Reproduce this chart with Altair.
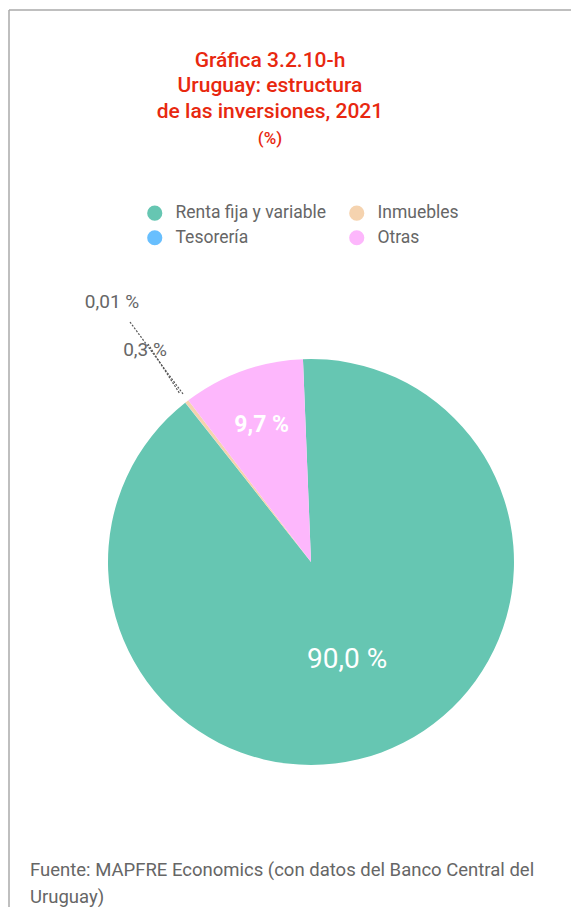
import math
import altair as alt
import pandas as pd

categorias = ["Renta fija y variable", "Tesorería", "Inmuebles", "Otras"]
valores = [90.0, 0.01, 0.3, 9.7]
orden = [0, 1, 2, 3]
etiqueta_grande = ["90,0 %", "", "", ""]
etiqueta_media = ["", "", "", "9,7 %"]
colores = ["#66C6B2", "#68BFFE", "#F5D3AF", "#FDB7FC"]

titulo = ["Gráfica 3.2.10-h", "Uruguay: estructura", "de las inversiones, 2021"]
subtitulo = "(%)"
fuente = ["Fuente: MAPFRE Economics (con datos del Banco Central del", "Uruguay)"]
etiquetas_ext = ["0,01 %", "0,3 %"]

df = pd.DataFrame({
    "cat": categorias,
    "val": valores,
    "orden": orden,
    "lg": etiqueta_grande,
    "lm": etiqueta_media,
})

W, H = 563, 899
CX, CY, R = 303, 554, 203
start = -0.0396
FONT = "Roboto"
RED = "#E8280F"
GRAY = "#666666"

base = alt.Chart(df)
theta = alt.Theta("val:Q", stack=True, scale=alt.Scale(range=[start, start + 2 * math.pi]))
order = alt.Order("orden:Q", sort="ascending")

pie = base.mark_arc(outerRadius=R, strokeWidth=0).encode(
    theta=theta,
    order=order,
    x=alt.value(CX),
    y=alt.value(CY),
    color=alt.Color(
        "cat:N",
        scale=alt.Scale(domain=categorias, range=colores),
        legend=alt.Legend(
            title=None,
            orient="none",
            legendX=138,
            legendY=196,
            columns=2,
            columnPadding=21,
            rowPadding=6,
            padding=0,
            symbolType="circle",
            symbolSize=230,
            symbolStrokeWidth=0,
            symbolOpacity=1,
            labelFont=FONT,
            labelFontSize=17.5,
            labelColor=GRAY,
            labelOffset=12,
            labelLimit=300,
        ),
    ),
)

lab_big = base.mark_text(radius=104, font=FONT, fontSize=28, color="white", align="center", baseline="middle").encode(
    theta=theta, order=order, x=alt.value(CX), y=alt.value(CY), text="lg:N"
)
lab_med = base.mark_text(radius=146, font=FONT, fontSize=23, fontWeight="bold", color="white", align="center", baseline="middle").encode(
    theta=theta, order=order, x=alt.value(CX), y=alt.value(CY), text="lm:N"
)

layers = [pie, lab_big, lab_med]

# titles
tpos = [53, 78, 104]
for t, yy in zip(titulo, tpos):
    layers.append(
        alt.Chart(pd.DataFrame({"t": [t]})).mark_text(font=FONT, fontSize=21, fontWeight=500, color=RED, align="center", baseline="middle")
        .encode(text="t:N", x=alt.value(262), y=alt.value(yy))
    )
layers.append(
    alt.Chart(pd.DataFrame({"t": [subtitulo]})).mark_text(font=FONT, fontSize=17, fontWeight=500, color=RED, align="center", baseline="middle")
    .encode(text="t:N", x=alt.value(262), y=alt.value(131))
)

# outer labels
for t, (xx, yy) in zip(etiquetas_ext, [(104, 294), (137, 342)]):
    layers.append(
        alt.Chart(pd.DataFrame({"t": [t]})).mark_text(font=FONT, fontSize=19, color=GRAY, align="center", baseline="middle")
        .encode(text="t:N", x=alt.value(xx), y=alt.value(yy))
    )

# leader lines
for (x1, y1, x2, y2) in [(122, 314, 175, 386), (140, 336, 172, 386)]:
    layers.append(
        alt.Chart(pd.DataFrame({"a": [0]})).mark_rule(color="#555555", strokeWidth=1.2, strokeDash=[2, 1.5])
        .encode(x=alt.value(x1), y=alt.value(y1), x2=alt.value(x2), y2=alt.value(y2))
    )

# source
for t, yy in zip(fuente, [862, 889]):
    layers.append(
        alt.Chart(pd.DataFrame({"t": [t]})).mark_text(font=FONT, fontSize=18.5, color=GRAY, align="left", baseline="middle")
        .encode(text="t:N", x=alt.value(22), y=alt.value(yy))
    )

# frame
layers.append(
    alt.Chart(pd.DataFrame({"a": [0]})).mark_rule(color="#AAAAAA", strokeWidth=1.5)
    .encode(x=alt.value(1), x2=alt.value(W), y=alt.value(2))
)
layers.append(
    alt.Chart(pd.DataFrame({"a": [0]})).mark_rule(color="#AAAAAA", strokeWidth=1.5)
    .encode(x=alt.value(1), y=alt.value(2), y2=alt.value(H))
)

chart = alt.layer(*layers).properties(
    width=W, height=H, autosize=alt.AutoSizeParams(type="none"), padding=0
).configure_view(stroke=None)

chart.save("out.html", embed_options={"renderer": "svg", "actions": False})
